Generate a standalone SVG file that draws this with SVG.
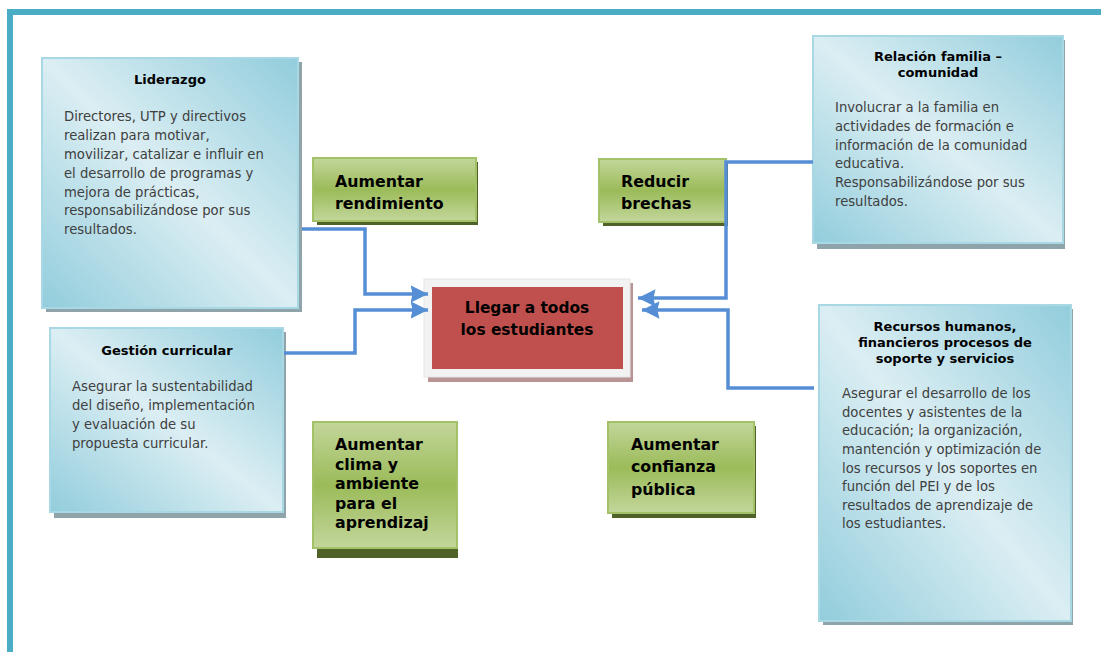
<svg xmlns="http://www.w3.org/2000/svg" width="1101" height="652" viewBox="0 0 1101 652">
<style>
.title{font-family:"DejaVu Sans",Verdana,sans-serif;font-weight:bold;font-size:13px;fill:#000;text-anchor:middle}
.body{font-family:"DejaVu Sans",Verdana,sans-serif;font-size:13.2px;fill:#404040}
.gtxt{font-family:"DejaVu Sans",Verdana,sans-serif;font-weight:bold;font-size:15.8px;fill:#000}
.rtxt{font-family:"DejaVu Sans",Verdana,sans-serif;font-weight:bold;font-size:15.4px;fill:#000;text-anchor:middle}
.bshadow{fill:#8fa3ab}
.bbox{fill:url(#blueGrad);stroke:#a8d8e4;stroke-width:2}
.gshadow{fill:#4f6228}
.gbox{fill:url(#greenGrad);stroke:#a3c166;stroke-width:2}
.conn{fill:none;stroke:#558ed5;stroke-width:3.5;marker-end:url(#arrow)}
</style>
<defs>
<linearGradient id="blueGrad" x1="1" y1="0" x2="0" y2="1">
<stop offset="0" stop-color="#92cddc"/>
<stop offset="0.5" stop-color="#dbeef3"/>
<stop offset="1" stop-color="#92cddc"/>
</linearGradient>
<linearGradient id="greenGrad" x1="0" y1="0" x2="0" y2="1">
<stop offset="0" stop-color="#c3d69b"/>
<stop offset="0.5" stop-color="#9bbb59"/>
<stop offset="1" stop-color="#c3d69b"/>
</linearGradient>
<marker id="arrow" markerWidth="5" markerHeight="5" refX="5" refY="2.5" orient="auto" markerUnits="strokeWidth">
<path d="M0,0 L5,2.5 L0,5 L0.6,2.5 z" fill="#558ed5"/>
</marker>
</defs>

<rect x="0" y="0" width="1101" height="652" fill="#fff"/>
<g id="frame">
<rect x="7" y="9" width="1094" height="6" fill="#4bacc6"/>
<rect x="7" y="9" width="6" height="643" fill="#4bacc6"/>
</g>

<g id="liderazgo">
<rect class="bshadow" x="46" y="62" width="256" height="250"/>
<rect class="bbox" x="42" y="58" width="256" height="250"/>
<text class="title" x="170" y="84">Liderazgo</text>
<text class="body" x="64" y="121">Directores, UTP y directivos</text>
<text class="body" x="64" y="140">realizan para motivar,</text>
<text class="body" x="64" y="159">movilizar, catalizar e influir en</text>
<text class="body" x="64" y="178">el desarrollo de programas y</text>
<text class="body" x="64" y="197">mejora de prácticas,</text>
<text class="body" x="64" y="215">responsabilizándose por sus</text>
<text class="body" x="64" y="234">resultados.</text>
</g>

<g id="gestion">
<rect class="bshadow" x="54" y="332" width="232" height="186"/>
<rect class="bbox" x="50" y="328" width="233" height="184"/>
<text class="title" x="167" y="355">Gestión curricular</text>
<text class="body" x="72" y="391">Asegurar la sustentabilidad</text>
<text class="body" x="72" y="410">del diseño, implementación</text>
<text class="body" x="72" y="429">y evaluación de su</text>
<text class="body" x="72" y="448">propuesta curricular.</text>
</g>

<g id="rendimiento">
<rect class="gshadow" x="317" y="162" width="161" height="63"/>
<rect class="gbox" x="313" y="158" width="163" height="63"/>
<text class="gtxt" x="335" y="187">Aumentar</text>
<text class="gtxt" x="335" y="209">rendimiento</text>
</g>

<g id="brechas">
<rect class="gshadow" x="603" y="163" width="125" height="63"/>
<rect class="gbox" x="599" y="159" width="127" height="63"/>
<text class="gtxt" x="621" y="187">Reducir</text>
<text class="gtxt" x="621" y="209">brechas</text>
</g>

<g id="clima">
<rect class="gshadow" x="317" y="428" width="141" height="130"/>
<rect class="gbox" x="313" y="422" width="144" height="126"/>
<text class="gtxt" x="335" y="450">Aumentar</text>
<text class="gtxt" x="335" y="470">clima y</text>
<text class="gtxt" x="335" y="489">ambiente</text>
<text class="gtxt" x="335" y="509">para el</text>
<text class="gtxt" x="335" y="528">aprendizaj</text>
</g>

<g id="confianza">
<rect class="gshadow" x="612" y="426" width="144" height="92"/>
<rect class="gbox" x="608" y="422" width="146" height="91"/>
<text class="gtxt" x="631" y="450">Aumentar</text>
<text class="gtxt" x="631" y="472">confianza</text>
<text class="gtxt" x="631" y="495">pública</text>
</g>

<g id="llegar">
<rect x="428" y="283" width="205" height="99" fill="#b89494"/>
<rect x="424" y="279" width="206" height="98" fill="#f2f2f2" stroke="#e6e6e6" stroke-width="1"/>
<rect x="432" y="287" width="191" height="82" fill="#c0504d"/>
<text class="rtxt" x="527" y="313">Llegar a todos</text>
<text class="rtxt" x="527" y="335">los estudiantes</text>
</g>

<g id="familia">
<rect class="bshadow" x="817" y="40" width="248" height="209"/>
<rect class="bbox" x="813" y="36" width="250" height="207"/>
<text class="title" x="938" y="61">Relación familia –</text>
<text class="title" x="938" y="77">comunidad</text>
<text class="body" x="835" y="112">Involucrar a la familia en</text>
<text class="body" x="835" y="131">actividades de formación e</text>
<text class="body" x="835" y="150">información de la comunidad</text>
<text class="body" x="835" y="168">educativa.</text>
<text class="body" x="835" y="187">Responsabilizándose por sus</text>
<text class="body" x="835" y="206">resultados.</text>
</g>

<g id="recursos">
<rect class="bshadow" x="823" y="309" width="250" height="316"/>
<rect class="bbox" x="819" y="305" width="252" height="316"/>
<text class="title" x="945" y="331">Recursos humanos,</text>
<text class="title" x="945" y="347">financieros procesos de</text>
<text class="title" x="945" y="363">soporte y servicios</text>
<text class="body" x="842" y="398">Asegurar el desarrollo de los</text>
<text class="body" x="842" y="417">docentes y asistentes de la</text>
<text class="body" x="842" y="435">educación; la organización,</text>
<text class="body" x="842" y="454">mantención y optimización de</text>
<text class="body" x="842" y="473">los recursos y los soportes en</text>
<text class="body" x="842" y="491">función del PEI y de los</text>
<text class="body" x="842" y="510">resultados de aprendizaje de</text>
<text class="body" x="842" y="528">los estudiantes.</text>
</g>

<g id="connectors">
<polyline class="conn" points="302,229 365,229 365,294 428,294"/>
<polyline class="conn" points="284,353 355,353 355,310 428,310"/>
<polyline class="conn" points="813,162 726,162 726,298 638,298"/>
<polyline class="conn" points="814,388 728,388 728,310 642,310"/>
</g>
</svg>
